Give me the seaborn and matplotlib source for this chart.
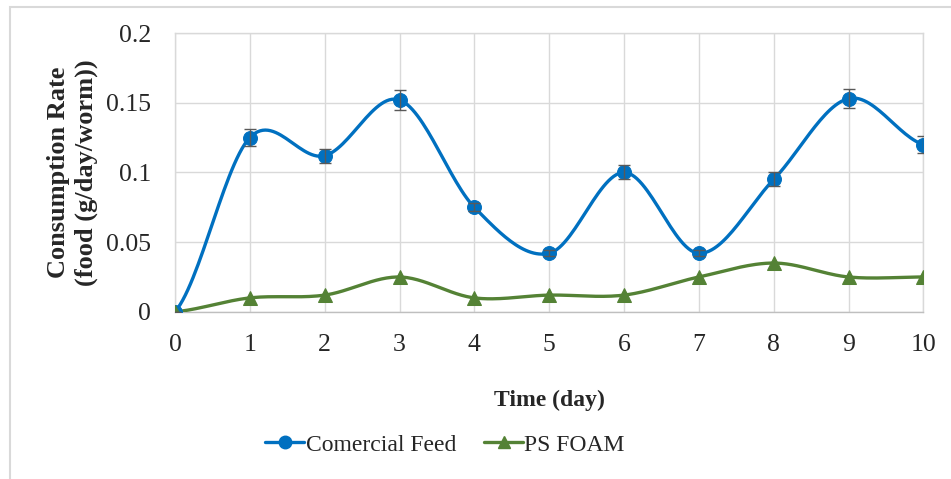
import numpy as np
import pandas as pd
import seaborn as sns
import matplotlib.pyplot as plt
from matplotlib.patches import Rectangle

# Data
days = [0, 1, 2, 3, 4, 5, 6, 7, 8, 9, 10]
comercial_feed = [0.0, 0.125, 0.112, 0.152, 0.075, 0.042, 0.100, 0.042, 0.095, 0.153, 0.120]
comercial_err = [0.0, 0.006, 0.005, 0.007, 0.003, 0.002, 0.005, 0.002, 0.005, 0.007, 0.006]
ps_foam = [0.0, 0.010, 0.012, 0.025, 0.010, 0.012, 0.012, 0.025, 0.035, 0.025, 0.025]

BLUE = '#0070C0'
GREEN = '#548235'


def smooth(x, y, n=30):
    # Excel-style smoothed line (Catmull-Rom through the points)
    x = np.asarray(x, float)
    y = np.asarray(y, float)
    px = np.concatenate([[2 * x[0] - x[1]], x, [2 * x[-1] - x[-2]]])
    py = np.concatenate([[y[0]], y, [y[-1]]])
    xs, ys = [], []
    t = np.linspace(0, 1, n)
    for i in range(1, len(px) - 2):
        p0, p1, p2, p3 = py[i - 1], py[i], py[i + 1], py[i + 2]
        ys.append(0.5 * ((2 * p1) + (-p0 + p2) * t + (2 * p0 - 5 * p1 + 4 * p2 - p3) * t ** 2
                         + (-p0 + 3 * p1 - 3 * p2 + p3) * t ** 3))
        xs.append(px[i] + (px[i + 1] - px[i]) * t)
    return np.concatenate(xs), np.concatenate(ys)


sns.set_style('white')
plt.rcParams['font.family'] = ['Liberation Serif', 'DejaVu Serif']

fig = plt.figure(figsize=(9.51, 4.79), dpi=100)
ax = fig.add_axes([0.184, 0.349, 0.787, 0.582])

df = pd.DataFrame({'day': days, 'Comercial Feed': comercial_feed, 'PS FOAM': ps_foam})

for col, color, marker, ms in [('Comercial Feed', BLUE, 'o', 10), ('PS FOAM', GREEN, '^', 10)]:
    sx, sy = smooth(df['day'], df[col])
    sns.lineplot(x=sx, y=sy, ax=ax, color=color, linewidth=2.4, sort=False, zorder=3)
    sns.lineplot(data=df, x='day', y=col, ax=ax, color=color, marker=marker, markersize=ms,
                 markeredgecolor=color, linestyle='none', zorder=4)

ax.errorbar(days, comercial_feed, yerr=comercial_err, fmt='none', ecolor='#595959',
            elinewidth=1, capsize=4, capthick=1, zorder=5)

ax.set_xlim(0, 10)
ax.set_ylim(0, 0.2)
ax.set_xticks(days)
ax.set_yticks([0, 0.05, 0.1, 0.15, 0.2])
ax.set_yticklabels(['0', '0.05', '0.1', '0.15', '0.2'])
ax.tick_params(axis='both', labelsize=18.5, length=0)
ax.tick_params(axis='x', pad=16)
ax.tick_params(axis='y', pad=17)
ax.grid(True, color='#d9d9d9', linewidth=1)
for s in ax.spines.values():
    s.set_color('#d9d9d9')
    s.set_linewidth(1)
ax.spines['bottom'].set_color('#bfbfbf')

ax.set_xlabel('Time (day)', fontsize=17, fontweight='bold', labelpad=24)
ax.set_ylabel('Consumption Rate\n(food (g/day/worm))', fontsize=19, fontweight='bold',
              labelpad=6, linespacing=1.25)

handles = [plt.Line2D([], [], color=BLUE, marker='o', markersize=9, linewidth=2.4),
           plt.Line2D([], [], color=GREEN, marker='^', markersize=9, linewidth=2.4)]
fig.legend(handles, ['Comercial Feed', 'PS FOAM'], loc='center', bbox_to_anchor=(0.468, 0.071),
           ncol=2, frameon=False, fontsize=17, handlelength=1.65, handletextpad=0.05,
           columnspacing=1.2)

fig.add_artist(Rectangle((0.011, -0.05), 1.1, 1.035, transform=fig.transFigure,
                         fill=False, edgecolor='#d9d9d9', linewidth=1.5))

fig.savefig('out.png', dpi=100)
plt.close(fig)
